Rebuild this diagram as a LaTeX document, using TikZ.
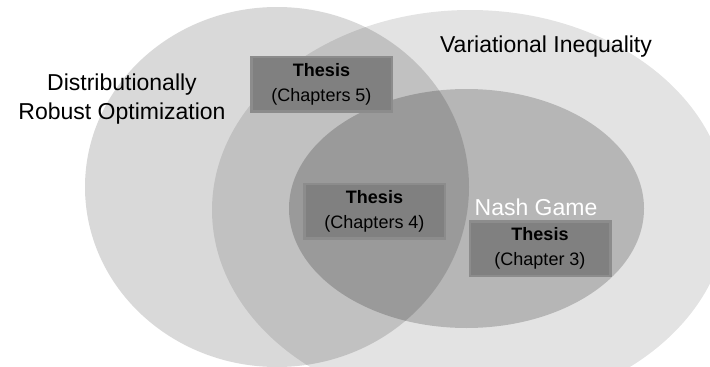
\documentclass[tikz,border=0pt]{standalone}
\usepackage{fontspec}
\setmainfont{Liberation Sans}
\definecolor{boxfill}{RGB}{128,128,128}
\definecolor{boxline}{RGB}{140,140,140}

\begin{document}
\begin{tikzpicture}[x=1pt, y=-1pt,
        setfill/.style={fill=black, fill opacity=#1},
        thesis/.style={fill=boxfill, draw=boxline, line width=2.5pt, minimum width=140.5pt, minimum height=54.5pt, align=center, font=\fontsize{18}{25}\selectfont},
        biglabel/.style={font=\fontsize{23}{29}\selectfont, align=center}]
        \useasboundingbox (0,0) rectangle (710,367);
        % the three sets
        \fill[setfill=0.15] (277,187) ellipse [x radius=192pt, y radius=180pt];
        \fill[setfill=0.11] (470,210) ellipse [x radius=258pt, y radius=200pt];
        \fill[setfill=0.2] (466.5,208.5) ellipse [x radius=177.5pt, y radius=119.5pt];
        % set labels
        \node[biglabel] (dro) at (122,99) {Distributionally\\Robust Optimization};
        \node[biglabel, anchor=base] (vi) at (546,52) {Variational Inequality};
        \node[biglabel, anchor=base, white] (nash) at (536,215) {Nash Game};
        % thesis chapters
        \node[thesis] (ch5) at (321.5,84) {\textbf{Thesis}\\(Chapters 5)};
        \node[thesis] (ch4) at (374.5,211) {\textbf{Thesis}\\(Chapters 4)};
        \node[thesis] (ch3) at (540,248.5) {\textbf{Thesis}\\(Chapter 3)};
    \end{tikzpicture}
\end{document}
